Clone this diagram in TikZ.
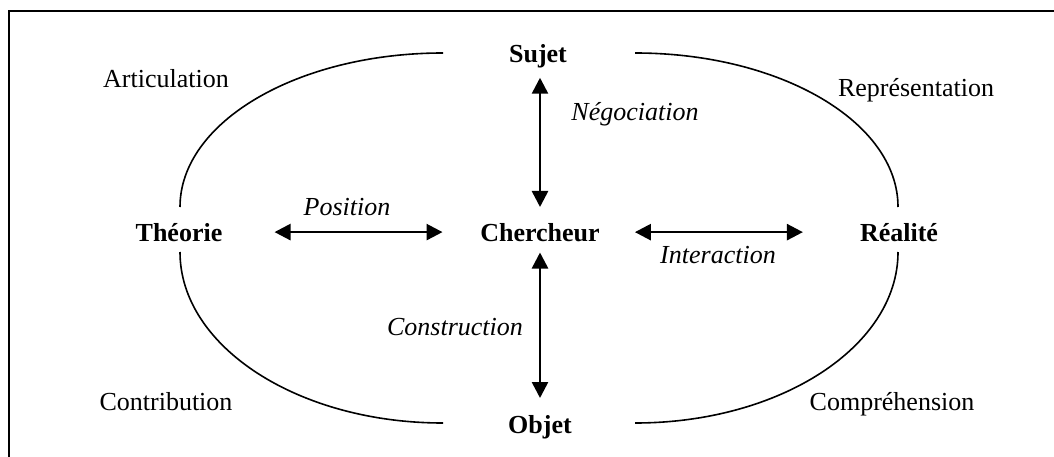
\documentclass[tikz,border=0pt]{standalone}
\usepackage{fontspec}
\setmainfont{Liberation Serif}
\usetikzlibrary{arrows.meta}
\tikzset{
  lbl/.style={font=\fontsize{26pt}{30pt}\selectfont, inner sep=0pt, anchor=base},
  key/.style={lbl, font=\fontsize{26pt}{30pt}\selectfont\bfseries},
  rel/.style={lbl, font=\fontsize{26pt}{30pt}\selectfont\itshape},
  dbl/.style={line width=2.6pt, {Triangle[length=16pt,width=16pt]}-{Triangle[length=16pt,width=16pt]}},
  arcline/.style={line width=1.6pt},
  frame/.style={line width=2pt}
}
\begin{document}
\begin{tikzpicture}[x=1pt,y=-1pt]
\useasboundingbox (0,0) rectangle (1054,457);
\clip (0,0) rectangle (1054,457);
\draw[frame] (9,470) -- (9,11) -- (1070,11);
% outer arcs
\draw[arcline] (180,207) arc[start angle=180, end angle=270, x radius=263, y radius=154];
\draw[arcline] (635,53) arc[start angle=270, end angle=360, x radius=263, y radius=154];
\draw[arcline] (898,252) arc[start angle=0, end angle=90, x radius=263, y radius=171];
\draw[arcline] (443,423) arc[start angle=90, end angle=180, x radius=263, y radius=171];
% main nodes
\node[key] (sujet) at (538,63) {Sujet};
\node[key] (cherch) at (540,241) {Chercheur};
\node[key] (objet) at (540,433) {Objet};
\node[key] (theorie) at (179,241) {Théorie};
\node[key] (realite) at (899,241) {Réalité};
% corner labels
\node[lbl] (artic) at (166,88) {Articulation};
\node[lbl] (repr) at (916,97) {Représentation};
\node[lbl] (contr) at (166,410) {Contribution};
\node[lbl] (compr) at (892,410) {Compréhension};
% relation labels
\node[rel] (nego) at (635,121) {Négociation};
\node[rel] (posit) at (347,215) {Position};
\node[rel] (inter) at (718,263) {Interaction};
\node[rel] (constr) at (455,335) {Construction};
% arrows
\draw[dbl] (cherch.north |- sujet.south) ++(0,9) -- (cherch.north |- 0,207);
\draw[dbl] (cherch.south) ++(0,11) -- (cherch.south |- 0,398);
\draw[dbl] (theorie.east) ++(52,0) -- ++(168,0);
\draw[dbl] (cherch.east) ++(35,0) -- ++(168,0);
\end{tikzpicture}
\end{document}
